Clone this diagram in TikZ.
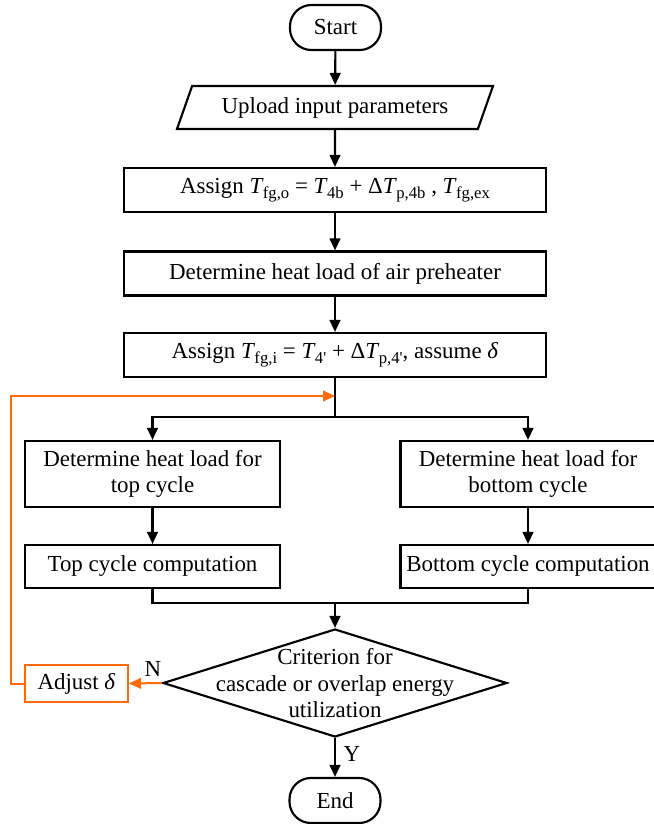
\documentclass[tikz,border=0pt]{standalone}
\usepackage{fontspec}
\setmainfont{Liberation Serif}
\usetikzlibrary{shapes.geometric}
\usetikzlibrary{positioning,arrows.meta}

\definecolor{loopcol}{RGB}{255,106,10}
\newcommand{\Tsub}[1]{\textit{T}\kern-0.03em\raisebox{-0.5ex}{\fontsize{12.5}{12.5}\selectfont #1}}

\begin{document}
\begin{tikzpicture}[x=0.75pt,y=-0.75pt,
  font=\fontsize{17.2}{20}\selectfont,
  proc/.style={draw,line width=1.6pt,rectangle,minimum width=316.5pt,minimum height=33pt,inner sep=0pt},
  side/.style={proc,minimum width=191.25pt,align=center},
  term/.style={draw,line width=1.6pt,rounded corners=16pt,minimum width=68.25pt,minimum height=33.75pt,inner sep=0pt},
  io/.style={draw,line width=1.6pt,trapezium,trapezium left angle=63,trapezium right angle=117,trapezium stretches body,minimum height=32.25pt,minimum width=237pt},
  dec/.style={draw,line width=1.6pt,diamond,aspect=3.2,inner sep=0pt,minimum width=258pt,minimum height=81pt},
  adj/.style={draw=loopcol,line width=1.5pt,minimum width=77.25pt,minimum height=27.75pt,inner sep=0pt},
  flow/.style={line width=1.6pt,-{Triangle[length=9pt,width=8pt]}},
  link/.style={line width=1.6pt},
  back/.style={loopcol,line width=1.5pt,-{Triangle[length=9pt,width=8pt]}},
]
\useasboundingbox (0,0) rectangle (653,824);

\node [term] (start) at (335.5,27.5) {Start};
\node [io] (upload) at (335,107.5) {Upload input parameters};
\node [proc] (assignA) at (335,190) {Assign \Tsub{fg,o} = \Tsub{4b} + Δ\Tsub{p,4b} , \Tsub{fg,ex}};
\node [proc] (heat) at (335,273.5) {Determine heat load of air preheater};
\node [proc] (assignB) at (335,355) {Assign \Tsub{fg,i} = \Tsub{4\textquotesingle} + Δ\Tsub{p,4\textquotesingle}, assume \textit{δ}};

\node [side,minimum height=49.5pt] (topheat) at (152.5,474) {Determine heat load for\\top cycle};
\node [side,minimum height=49.5pt] (botheat) at (528,474) {Determine heat load for\\bottom cycle};
\node [side,minimum height=32.25pt] (topcomp) at (152.5,566.5) {Top cycle computation};
\node [side,minimum height=32.25pt] (botcomp) at (528,566.5) {Bottom cycle computation};

\node [dec] (crit) at (335,683) {\smash{\raisebox{-6.5pt}{\begin{tabular}{@{}c@{}}Criterion for\\cascade or overlap energy\\utilization\end{tabular}}}};
\node [adj] (adjust) at (76.5,683.5) {Adjust \textit{δ}};
\node [term] (end) at (335,800.5) {End};

\coordinate (fork) at (335,417);
\coordinate (join) at (335,603);
\coordinate (ret) at (335,396);

\draw[flow] (start) -- (upload);
\draw[flow] (upload) -- (assignA);
\draw[flow] (assignA) -- (heat);
\draw[flow] (heat) -- (assignB);

\draw[link] (assignB.south) -- (fork);
\draw[flow] (fork) -| (topheat.north);
\draw[flow] (fork) -| (botheat.north);
\draw[flow] (topheat) -- (topcomp);
\draw[flow] (botheat) -- (botcomp);

\draw[link] (topcomp.south) |- (join) -| (botcomp.south);
\draw[flow] (join) -- (crit.north);

\draw[back] (crit.west) -- (adjust.east);
\draw[back] (adjust.west) -- ++(-13,0) |- (ret);
\draw[flow] (crit.south) -- (end.north);

\node (no) at (153,669) {N};
\node (yes) at (352,754) {Y};

\end{tikzpicture}
\end{document}
